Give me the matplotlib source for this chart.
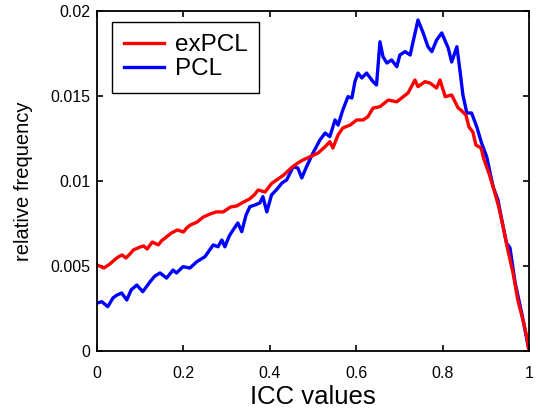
import matplotlib
matplotlib.use("Agg")
import matplotlib.pyplot as plt

plt.rcParams['font.family'] = ['Liberation Sans', 'DejaVu Sans']

# ICC histogram (y in units of 1e-3)
red_x = [0.000, 0.011, 0.016, 0.030, 0.040, 0.049, 0.058, 0.067, 0.076, 0.084,
         0.100, 0.108, 0.116, 0.128, 0.142, 0.150, 0.158, 0.172, 0.186, 0.200,
         0.208, 0.216, 0.232, 0.246, 0.262, 0.276, 0.292, 0.309, 0.323, 0.339,
         0.353, 0.364, 0.373, 0.389, 0.404, 0.418, 0.432, 0.451, 0.465, 0.477,
         0.497, 0.512, 0.528, 0.539, 0.546, 0.558, 0.569, 0.586, 0.601, 0.616,
         0.627, 0.639, 0.655, 0.674, 0.694, 0.705, 0.720, 0.736, 0.743, 0.759,
         0.771, 0.786, 0.794, 0.806, 0.821, 0.836, 0.842, 0.854, 0.861, 0.870,
         0.877, 0.889, 0.896, 0.907, 0.919, 0.930, 0.940, 0.951, 0.963, 0.974,
         0.986, 0.995, 1.000]
red_y = [5.06, 4.94, 4.88, 5.12, 5.35, 5.53, 5.65, 5.47, 5.70, 5.94,
         6.12, 6.18, 6.00, 6.41, 6.24, 6.50, 6.65, 6.94, 7.12, 7.00,
         7.25, 7.41, 7.59, 7.88, 8.06, 8.18, 8.18, 8.47, 8.53, 8.76,
         8.94, 9.18, 9.47, 9.35, 9.85, 10.10, 10.35, 10.80, 11.06, 11.24,
         11.47, 11.65, 12.02, 12.31, 11.94, 12.71, 13.12, 13.29, 13.59, 13.59,
         13.78, 14.29, 14.37, 14.76, 14.66, 14.88, 15.18, 15.94, 15.55, 15.84,
         15.76, 15.47, 15.94, 14.96, 15.06, 14.29, 14.18, 13.88, 13.18, 12.88,
         12.12, 11.94, 11.24, 10.47, 9.47, 8.47, 7.29, 5.94, 4.59, 3.00,
         1.82, 0.82, 0.0]

blue_x = [0.000, 0.011, 0.025, 0.037, 0.046, 0.057, 0.069, 0.079, 0.092, 0.106,
          0.123, 0.134, 0.146, 0.161, 0.176, 0.184, 0.199, 0.215, 0.231, 0.250,
          0.269, 0.280, 0.289, 0.296, 0.306, 0.315, 0.326, 0.335, 0.345, 0.354,
          0.366, 0.377, 0.384, 0.393, 0.404, 0.417, 0.428, 0.439, 0.454, 0.465,
          0.474, 0.485, 0.500, 0.516, 0.528, 0.539, 0.551, 0.558, 0.569, 0.581,
          0.590, 0.597, 0.604, 0.613, 0.624, 0.639, 0.647, 0.655, 0.662, 0.671,
          0.682, 0.694, 0.701, 0.713, 0.725, 0.731, 0.743, 0.755, 0.766, 0.775,
          0.786, 0.798, 0.813, 0.821, 0.833, 0.840, 0.847, 0.856, 0.867, 0.879,
          0.890, 0.902, 0.910, 0.917, 0.928, 0.938, 0.948, 0.956, 0.968, 0.983,
          0.993, 1.000]
blue_y = [2.82, 2.90, 2.61, 3.12, 3.29, 3.41, 3.00, 3.59, 3.88, 3.49,
          4.08, 4.41, 4.59, 4.29, 4.76, 4.59, 4.96, 4.88, 5.25, 5.55,
          6.24, 6.13, 6.53, 6.13, 6.76, 7.12, 7.53, 7.02, 8.00, 8.49,
          8.59, 8.71, 9.08, 8.18, 9.18, 9.53, 9.88, 10.06, 10.84, 10.76,
          10.18, 10.84, 11.65, 12.41, 12.82, 12.61, 13.59, 13.29, 14.18, 14.96,
          14.88, 15.84, 16.35, 16.06, 16.35, 15.84, 15.65, 18.19, 17.31, 16.94,
          17.12, 16.72, 17.41, 17.61, 17.41, 18.12, 19.47, 18.71, 17.90, 17.61,
          18.29, 18.71, 17.82, 17.00, 17.90, 16.53, 15.06, 14.00, 14.00, 13.19,
          12.24, 11.43, 10.47, 9.66, 8.88, 7.59, 6.35, 6.06, 4.00, 2.24,
          0.94, 0.0]

xticks = [0, 0.2, 0.4, 0.6, 0.8, 1]
xtick_labels = ['0', '0.2', '0.4', '0.6', '0.8', '1']
yticks = [0, 0.005, 0.01, 0.015, 0.02]
ytick_labels = ['0', '0.005', '0.01', '0.015', '0.02']

fig = plt.figure(figsize=(5.38, 4.18), dpi=100)
ax = fig.add_axes([0.1803, 0.1603, 0.8030, 0.8134])

lb, = ax.plot(blue_x, [v * 1e-3 for v in blue_y], color='#0000ff', lw=2.4, label='PCL')
lr, = ax.plot(red_x, [v * 1e-3 for v in red_y], color='#ff0000', lw=2.4, label='exPCL')

ax.set_xlim(0, 1)
ax.set_ylim(0, 0.02)
ax.set_xticks(xticks)
ax.set_xticklabels(xtick_labels)
ax.set_yticks(yticks)
ax.set_yticklabels(ytick_labels)
ax.tick_params(direction='in', top=True, right=True, length=4, width=1.2, labelsize=11.5)
ax.tick_params(axis='x', pad=11)
ax.tick_params(axis='y', pad=5)
for s in ax.spines.values():
    s.set_linewidth(1.3)

ax.set_xlabel('ICC values', fontsize=18.5, labelpad=3)
ax.set_ylabel('relative frequency', fontsize=14.5, labelpad=12)

leg = ax.legend([lr, lb], ['exPCL', 'PCL'], loc='upper left',
                bbox_to_anchor=(0.035, 0.968), borderaxespad=0, fontsize=17.5,
                fancybox=False, framealpha=1, edgecolor='black',
                handlelength=1.65, handletextpad=0.42, borderpad=0.5,
                labelspacing=0.1)
leg.get_frame().set_linewidth(1.0)

fig.savefig('out.png', dpi=100)
